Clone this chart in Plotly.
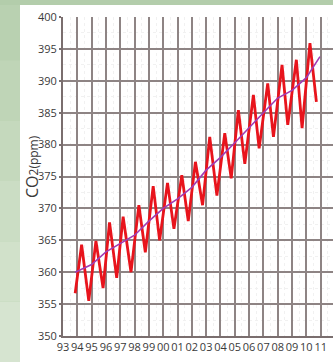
import plotly.graph_objects as go

# Seasonal CO2 curve (vertices)
co2_years = [1993.85, 1994.3, 1994.8, 1995.3, 1995.8, 1996.25, 1996.75, 1997.2, 1997.75,
             1998.3, 1998.75, 1999.3, 1999.75, 2000.3, 2000.75, 2001.3, 2001.75,
             2002.25, 2002.75, 2003.25, 2003.75, 2004.3, 2004.75, 2005.25, 2005.7,
             2006.3, 2006.7, 2007.3, 2007.7, 2008.3, 2008.7, 2009.3, 2009.7,
             2010.25, 2010.7]
co2_values = [356.7, 364.3, 355.5, 364.9, 357.5, 367.8, 359.1, 368.7, 360.0,
              370.5, 363.1, 373.5, 365.0, 374.0, 366.8, 375.2, 368.0,
              377.3, 370.5, 381.2, 372.0, 381.8, 374.7, 385.4, 377.0,
              387.8, 379.4, 389.6, 381.2, 392.5, 383.1, 393.3, 382.6,
              395.9, 386.7]

# Trend line
trend_years = [1993.85, 1995.0, 1996.0, 1997.0, 1998.0, 1999.0, 2000.0, 2001.0, 2002.0,
               2003.0, 2004.0, 2005.0, 2006.0, 2007.0, 2008.0, 2009.0, 2010.0, 2010.95]
trend_values = [360.0, 361.2, 363.2, 364.5, 365.8, 368.0, 370.0, 371.5, 373.3,
                376.0, 378.0, 380.3, 382.7, 385.0, 387.3, 388.5, 390.5, 393.8]

x_tick_vals = list(range(1993, 2012))
x_tick_text = ["93", "94", "95", "96", "97", "98", "99", "00", "01", "02", "03",
               "04", "05", "06", "07", "08", "09", "10", "11"]
y_tick_vals = [350, 355, 360, 365, 370, 375, 380, 385, 390, 395, 400]

W, H = 333, 362
ML, MR, MT, MB = 63, 0, 17, 26
PW, PH = W - ML - MR, H - MT - MB

def px(x):
    return (x - ML) / PW

def py(y):
    return (H - MB - y) / PH

fig = go.Figure()
fig.add_trace(go.Scatter(x=co2_years, y=co2_values, mode="lines",
                         line=dict(color="#e8141c", width=2.8), showlegend=False))
fig.add_trace(go.Scatter(x=trend_years, y=trend_values, mode="lines",
                         line=dict(color="#a03cb4", width=1.6), showlegend=False))

shapes = []
# white panel
shapes.append(dict(type="rect", xref="paper", yref="paper", x0=px(20), x1=px(W + 20),
                   y0=py(H + 20), y1=py(5), fillcolor="white", line=dict(width=0), layer="below"))
# top green band
shapes.append(dict(type="rect", xref="paper", yref="paper", x0=px(0), x1=px(W + 20),
                   y0=py(5), y1=py(-20), fillcolor="#b3cdab", line=dict(width=0), layer="above"))
# left green strip (stacked bands for gradient)
greens = ["#b9d1b1", "#bfd5b7", "#c5d9bd", "#cbddc4", "#d1e1ca", "#d6e4d0"]
n = len(greens)
for i, c in enumerate(greens):
    y0 = H * i / n
    y1 = H * (i + 1) / n
    shapes.append(dict(type="rect", xref="paper", yref="paper", x0=px(0), x1=px(20),
                       y0=py(y1), y1=py(y0), fillcolor=c, line=dict(width=0), layer="below"))

fig.update_layout(
    width=W, height=H, autosize=False,
    margin=dict(l=ML, r=MR, t=MT, b=MB, pad=0),
    paper_bgcolor="#b3cdab", plot_bgcolor="white",
    shapes=shapes,
    font=dict(family="Open Sans", color="#3a3a3a", size=11),
    xaxis=dict(range=[1993, 2011.86], tickmode="array", tickvals=x_tick_vals,
               ticktext=x_tick_text, showgrid=True, gridcolor="#8e8484", gridwidth=1.8,
               showline=True, linecolor="#7a6e6e", linewidth=2, ticks="", tickangle=0,
               tickfont=dict(size=11, color="#3a3a3a"), zeroline=False, automargin=False,
               minor=dict(dtick=0.5, showgrid=True, gridcolor="#f1f1f1", gridwidth=1, griddash="dot")),
    yaxis=dict(range=[350, 400], tickmode="array", tickvals=y_tick_vals,
               showgrid=True, gridcolor="#8e8484", gridwidth=1.8,
               showline=True, linecolor="#7a6e6e", linewidth=2,
               ticks="outside", ticklen=2, tickcolor="#7a6e6e", tickwidth=1.8,
               tickfont=dict(size=11, color="#3a3a3a"), zeroline=False, automargin=False,
               minor=dict(dtick=2.5, showgrid=True, gridcolor="#f1f1f1", gridwidth=1, griddash="dot")),
    annotations=[
        dict(text="CO<span style='font-size:12px'>2(ppm)</span>", textangle=-90,
             xref="paper", yref="paper", x=px(32), y=py(167), showarrow=False,
             font=dict(size=16, color="#3a3a3a"), xanchor="center", yanchor="middle"),
        dict(text="12", xref="x", yref="paper", x=2012, y=py(345), showarrow=False,
             font=dict(size=11, color="#3a3a3a"), xanchor="center", yanchor="middle"),
    ],
)

fig.write_html("out.html", config={"displayModeBar": False},
               post_script="document.body.style.margin='0';document.body.style.padding='0';")
